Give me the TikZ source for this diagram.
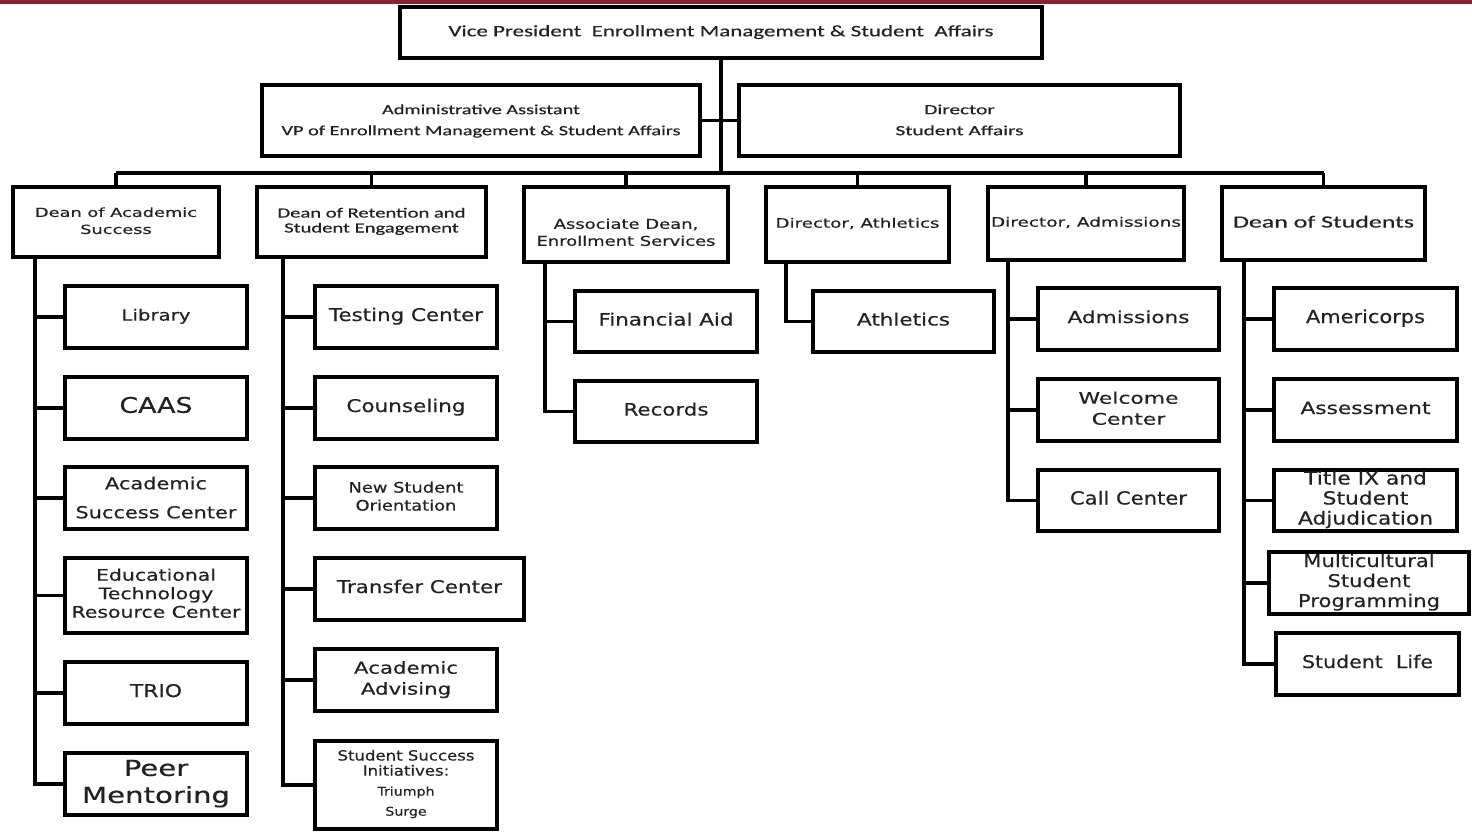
\documentclass[tikz,border=0pt]{standalone}
\usepackage{fontspec}
\usepackage{graphicx}
\setmainfont{Carlito}
\newfontfamily\cf[FakeBold=0.35]{Carlito}
\newfontfamily\vf[FakeBold=0.35]{DejaVu Sans}
\definecolor{band}{HTML}{8E1F2F}
\definecolor{txt}{HTML}{222222}
\newcommand{\T}[5]{#1\fontsize{#3}{#4}\selectfont\resizebox{#2pt}{\height}{\begin{tabular}{@{}c@{}}#5\end{tabular}}}
\newcommand{\bx}[7][]{\node[orgbox, minimum width={#5pt-#3pt}, minimum height={#6pt-#4pt}, #1] (#2) at ({(#3+#5)/2},{(#4+#6)/2}) {#7};}
\tikzset{
  orgbox/.style={draw=black, line width=3.2pt, fill=white, inner sep=0pt, text=txt},
  conn/.style={draw=black, line width=3.2pt, line join=miter}
}
\begin{document}
\begin{tikzpicture}[x=1pt,y=-1pt]
\useasboundingbox (0,0) rectangle (1472,832);
\fill[band] (0,0) rectangle (1472,4.5);
% coordinates
\coordinate (bus) at (0,173);
\coordinate (s1) at (35,0);
\coordinate (s2) at (283,0);
\coordinate (s3) at (545,0);
\coordinate (s4) at (786,0);
\coordinate (s5) at (1008,0);
\coordinate (s6) at (1244,0);
% top level
\bx{vp}{400}{7}{1042}{58}{\T{\cf}{545}{16}{19}{Vice President \ Enrollment Management \& Student \ Affairs}}
\bx{adm}{262}{85}{700}{156}{\T{\cf}{399}{14}{21}{Administrative Assistant\\VP of Enrollment Management \& Student Affairs}}
\bx{dsa}{739}{85}{1180}{156}{\T{\cf}{128}{14}{21}{Director\\Student Affairs}}
% level 2
\bx{das}{13}{187}{219}{257}{\T{\vf}{162}{12.5}{17}{Dean of Academic\\Success}}
\bx{dre}{257}{187}{486}{257}{\T{\cf}{188}{14}{15}{Dean of Retention and\\Student Engagement}}
\bx{ade}{524}{187}{728}{262}{\raisebox{-13pt}[0pt][0pt]{\T{\vf}{179}{13.5}{17}{Associate Dean,\\Enrollment Services}}}
\bx{dat}{766}{187}{949}{262}{\T{\vf}{164}{13}{16}{Director, Athletics}}
\bx{dad}{988}{187}{1184}{260}{\T{\vf}{190}{13}{16}{Director, Admissions}}
\bx{dos}{1222}{187}{1425}{260}{\T{\cf}{181}{17}{20}{Dean of Students}}
% column 1
\bx{lib}{65}{286}{247}{348}{\T{\vf}{69}{15.5}{18}{Library}}
\bx{caas}{65}{377}{247}{439}{\T{\vf}{73}{21.5}{24}{CAAS}}
\bx{asc}{65}{467}{247}{529}{\T{\vf}{161}{16.5}{29}{Academic\\Success Center}}
\bx{etr}{65}{558}{247}{633}{\T{\vf}{169}{16}{18.5}{Educational\\Technology\\Resource Center}}
\bx{trio}{65}{662}{247}{724}{\T{\vf}{52}{17.5}{20}{TRIO}}
\bx{peer}{65}{753}{247}{815}{\T{\vf}{148}{22}{27}{Peer\\Mentoring}}
% column 2
\bx{test}{315}{286}{497}{348}{\T{\vf}{154}{17.5}{20}{Testing Center}}
\bx{coun}{315}{377}{497}{439}{\T{\vf}{119}{17.5}{20}{Counseling}}
\bx{nso}{315}{467}{497}{529}{\T{\vf}{115}{14.5}{18}{New Student\\Orientation}}
\bx{trc}{315}{558}{524}{620}{\T{\vf}{165}{17.5}{20}{Transfer Center}}
\bx{aad}{315}{649}{497}{711}{\T{\vf}{104}{16.5}{21}{Academic\\Advising}}
\bx{ssi}{315}{741}{497}{829}{\T{\vf}{137}{14}{15}{Student Success\\Initiatives:\\[5pt]{\fontsize{12}{15}\selectfont Triumph}\\[5pt]{\fontsize{12}{15}\selectfont Surge}}}
% column 3
\bx{fin}{575}{291}{757}{352}{\T{\vf}{135}{17}{20}{Financial Aid}}
\bx{rec}{575}{381}{757}{442}{\T{\vf}{85}{17}{20}{Records}}
% column 4
\bx{ath}{813}{291}{994}{352}{\T{\vf}{93}{17}{20}{Athletics}}
% column 5
\bx{adms}{1038}{288}{1219}{350}{\T{\vf}{122}{16.5}{20}{Admissions}}
\bx{wel}{1038}{379}{1219}{441}{\T{\vf}{100}{16}{21}{Welcome\\Center}}
\bx{call}{1038}{470}{1219}{531}{\T{\vf}{117}{18}{20}{Call Center}}
% column 6
\bx{ame}{1274}{288}{1457}{350}{\T{\vf}{119}{18}{20}{Americorps}}
\bx{ass}{1274}{379}{1457}{441}{\T{\vf}{130}{17}{20}{Assessment}}
\bx{tix}{1274}{470}{1457}{531}{\T{\vf}{135}{18}{20}{Title IX and\\Student\\Adjudication}}
\bx{mul}{1269}{552}{1469}{614}{\T{\vf}{142}{17.5}{20}{Multicultural\\Student\\Programming}}
\bx{sli}{1276}{633}{1459}{695}{\T{\vf}{131}{17.5}{20}{Student \ Life}}
% connectors
\draw[conn] (vp.south) -- (vp.south |- bus);
\draw[conn] (adm.east) -- (dsa.west);
\draw[conn] (das.north |- bus) -- (dos.north |- bus);
\foreach \n in {das,dre,ade,dat,dad,dos} { \draw[conn] (\n.north |- bus) -- (\n.north); }
\foreach \n in {lib,caas,asc,etr,trio,peer} { \draw[conn] (das.south -| s1) |- (\n.west); }
\foreach \n in {test,coun,nso,trc,aad,ssi} { \draw[conn] (dre.south -| s2) |- (\n.west); }
\foreach \n in {fin,rec} { \draw[conn] (ade.south -| s3) |- (\n.west); }
\draw[conn] (dat.south -| s4) |- (ath.west);
\foreach \n in {adms,wel,call} { \draw[conn] (dad.south -| s5) |- (\n.west); }
\foreach \n in {ame,ass,tix,mul,sli} { \draw[conn] (dos.south -| s6) |- (\n.west); }
\end{tikzpicture}
\end{document}
